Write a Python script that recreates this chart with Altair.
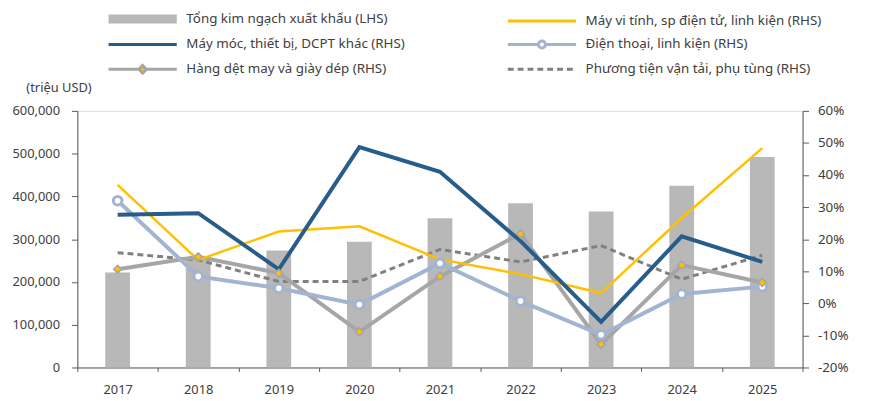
import altair as alt
import pandas as pd

# ---------------- data ----------------
years = ["2017", "2018", "2019", "2020", "2021", "2022", "2023", "2024", "2025"]
total_exports = [222000, 258000, 273500, 294000, 349000, 384000, 365000, 425000, 492000]
computers = [36.9, 13.5, 22.4, 24.0, 13.7, 9.1, 3.2, 26.6, 48.4]
machinery = [27.6, 28.1, 10.6, 48.7, 41.0, 19.4, -5.8, 20.9, 12.9]
phones = [32.0, 8.4, 4.7, -0.4, 12.5, 0.7, -9.8, 2.9, 5.2]
textiles = [10.6, 14.5, 9.4, -8.9, 8.4, 21.7, -12.8, 11.9, 6.5]
vehicles = [15.8, 13.5, 6.8, 6.8, 16.8, 12.9, 18.0, 7.5, 15.0]

names = [
    "Tổng kim ngạch xuất khẩu (LHS)",
    "Máy vi tính, sp điện tử, linh kiện (RHS)",
    "Máy móc, thiết bị, DCPT khác (RHS)",
    "Điện thoại, linh kiện (RHS)",
    "Hàng dệt may và giày dép (RHS)",
    "Phương tiện vận tải, phụ tùng (RHS)",
]
left_ticks = [0, 100000, 200000, 300000, 400000, 500000, 600000]
right_ticks = [-20, -10, 0, 10, 20, 30, 40, 50, 60]
left_title = "(triệu USD)"

# ---------------- styles ----------------
FONT = "Noto Sans"
TXT = "#404040"
AX = "#595959"
C_BAR = "#b8b8b8"
C_YEL = "#ffc000"
C_BLUE = "#265d8a"
C_LBLUE = "#a2b4d0"
C_GRAY = "#a6a6a6"
C_DASH = "#808080"

bars_df = pd.DataFrame({"year": years, "value": total_exports})
series_values = [computers, machinery, phones, textiles, vehicles]
rows = []
for nm, vals in zip(names[1:], series_values):
    for y, v in zip(years, vals):
        rows.append({"year": y, "series": nm, "value": v})
lines_df = pd.DataFrame(rows)

x_enc = alt.X(
    "year:N", sort=years, title=None,
    scale=alt.Scale(paddingInner=0, paddingOuter=0),
    axis=alt.Axis(labelAngle=0, tickBand="extent", tickSize=4, labelPadding=12,
                  domainColor=AX, tickColor=AX, labelColor=TXT, labelFont=FONT,
                  labelFontSize=13),
)

bars = alt.Chart(bars_df).mark_bar(size=25, color=C_BAR).encode(
    x=x_enc,
    y=alt.Y("value:Q", scale=alt.Scale(domain=[0, 600000], nice=False, zero=True),
            axis=alt.Axis(values=left_ticks, format=",d", grid=False,
                          title=left_title, titleAngle=0, titleX=-52, titleY=-24,
                          titleAlign="left", titleBaseline="middle", titleFont=FONT,
                          titleFontSize=13, titleFontWeight="normal", titleColor=TXT,
                          tickSize=6, labelPadding=12, domainColor=AX, tickColor=AX,
                          labelColor=TXT, labelFont=FONT, labelFontSize=13)),
)

y_right = alt.Y("value:Q", scale=alt.Scale(domain=[-20, 60], nice=False, zero=False),
                axis=alt.Axis(orient="right", values=right_ticks, grid=False, title=None,
                              labelExpr="datum.value + '%'", tickSize=6, labelPadding=9,
                              domainColor=AX, tickColor=AX, labelColor=TXT,
                              labelFont=FONT, labelFontSize=13.5))

base = alt.Chart(lines_df)
x_line = alt.X("year:N", sort=years)


def line_layer(name, color, width, dash=None):
    kw = dict(color=color, strokeWidth=width)
    if dash:
        kw["strokeDash"] = dash
    return base.transform_filter(alt.datum.series == name).mark_line(**kw).encode(
        x=x_line, y=y_right)


l_dash = line_layer(names[5], C_DASH, 3, [6, 4])
l_text = line_layer(names[4], C_GRAY, 4)
l_phone = line_layer(names[3], C_LBLUE, 4)
l_comp = line_layer(names[1], C_YEL, 2.5)
l_mach = line_layer(names[2], C_BLUE, 4)

m_phone = base.transform_filter(alt.datum.series == names[3]).mark_point(
    shape="circle", filled=True, fill="white", stroke=C_LBLUE, strokeWidth=3,
    size=75, opacity=1).encode(x=x_line, y=y_right)
m_text = base.transform_filter(alt.datum.series == names[4]).mark_point(
    shape="diamond", filled=True, fill=C_YEL, stroke=C_GRAY, strokeWidth=1.5,
    size=64, opacity=1).encode(x=x_line, y=y_right)

# ---------------- legend (built by the library from scales) ----------------
L, R = -1.0, 7.1
MID = (L + R) / 2
p_bar = f"M{L},-0.53H{R}V0.53H{L}Z"
p_line = f"M{L},0H{R}"
cr = 0.42
p_phone = (f"M{L},0H{MID - cr:.2f}M{MID + cr:.2f},0H{R}"
           f"M{MID + cr:.2f},0A{cr},{cr} 0 1,1 {MID - cr:.2f},0A{cr},{cr} 0 1,1 {MID + cr:.2f},0Z")
dr = 0.45
p_text = (f"M{L},0H{MID - dr:.2f}M{MID + dr:.2f},0H{R}"
          f"M{MID:.2f},{-dr}L{MID + dr:.2f},0L{MID:.2f},{dr}L{MID - dr:.2f},0Z")
parts = []
xx = L
while xx < R - 0.2:
    parts.append(f"M{xx:.2f},0H{min(xx + 0.7, R):.2f}")
    xx += 1.17
p_dash = "".join(parts)

shape_map = {names[0]: p_bar, names[1]: p_line, names[2]: p_line,
             names[3]: p_phone, names[4]: p_text, names[5]: p_dash}
fill_map = {names[0]: C_BAR, names[1]: C_YEL, names[2]: C_BLUE,
            names[3]: "white", names[4]: C_YEL, names[5]: C_DASH}
stroke_map = {names[0]: "rgba(0,0,0,0)", names[1]: C_YEL, names[2]: C_BLUE,
              names[3]: C_LBLUE, names[4]: C_GRAY, names[5]: C_DASH}
# legend fills column by column: left column first, then right column
legend_order = [names[0], names[2], names[4], names[1], names[3], names[5]]

leg = alt.Legend(title=None, orient="none", legendX=30, legendY=-103, columns=2,
                 symbolSize=289, symbolStrokeWidth=3, labelOffset=60,
                 labelFont=FONT, labelFontSize=13.5, labelColor=TXT, labelLimit=600,
                 rowPadding=5, columnPadding=97, symbolOpacity=1)

legend_layer = base.transform_filter("false").mark_point(filled=True, opacity=1).encode(
    fill=alt.Fill("series:N", scale=alt.Scale(domain=legend_order,
                  range=[fill_map[n] for n in legend_order]), legend=leg),
    stroke=alt.Stroke("series:N", scale=alt.Scale(domain=legend_order,
                      range=[stroke_map[n] for n in legend_order]), legend=leg),
    shape=alt.Shape("series:N", scale=alt.Scale(domain=legend_order,
                    range=[shape_map[n] for n in legend_order]), legend=leg),
)

right = alt.layer(l_dash, l_text, l_phone, l_comp, l_mach, m_phone, m_text, legend_layer)

chart = alt.layer(bars, right).resolve_scale(y="independent").properties(
    width=732, height=259,
    autosize=alt.AutoSizeParams(type="none"),
    padding={"left": 70, "top": 102, "right": 61, "bottom": 32},
).configure_view(stroke=None).configure(font=FONT)

chart.save("out.html", embed_options={"renderer": "svg", "actions": False})
